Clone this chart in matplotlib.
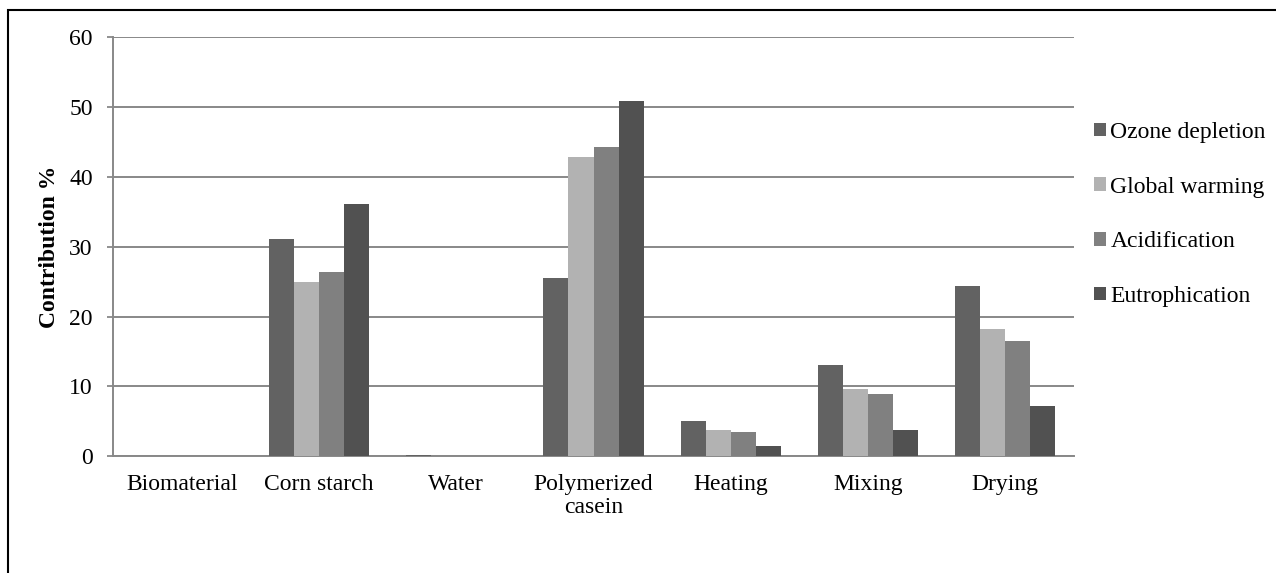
import matplotlib
matplotlib.use("Agg")
import matplotlib.pyplot as plt
import numpy as np
from matplotlib.patches import Rectangle

categories = ["Biomaterial", "Corn starch", "Water", "Polymerized\ncasein", "Heating", "Mixing", "Drying"]
series_names = ["Ozone depletion", "Global warming", "Acidification", "Eutrophication"]
ozone = [0, 31.1, 0.2, 25.6, 5.1, 13.1, 24.4]
global_warming = [0, 24.9, 0, 42.8, 3.8, 9.7, 18.3]
acidification = [0, 26.4, 0, 44.3, 3.5, 8.9, 16.5]
eutrophication = [0, 36.2, 0, 50.9, 1.5, 3.8, 7.2]
colors = ["#626262", "#b2b2b2", "#808080", "#515151"]

plt.rcParams['font.family'] = ['Liberation Serif', 'DejaVu Serif']
FS = 17

fig = plt.figure(figsize=(12.76, 5.73), dpi=100)
ax = fig.add_axes([113/1276, 1-456.3/573, (1074-113)/1276, (456.3-37.3)/573])

x = np.arange(len(categories))
w = 0.73 / 4
for i, (vals, name) in enumerate(zip([ozone, global_warming, acidification, eutrophication], series_names)):
    ax.bar(x + (i - 1.5) * w, vals, w, color=colors[i], label=name, zorder=3)

ax.set_xlim(-0.5, len(categories) - 0.5)
ax.set_ylim(0, 60)
ax.set_yticks(range(0, 61, 10))
ax.set_xticks(x)
ax.set_xticklabels(categories, fontsize=FS, linespacing=1.1)
ax.tick_params(axis='y', labelsize=FS, length=4.5, color='#888888', width=1.3, pad=10)
ax.tick_params(axis='x', length=0, pad=13)
ax.yaxis.grid(True, color='#888888', linewidth=1.4, zorder=0)
ax.set_axisbelow(True)
for s in ['top', 'right']:
    ax.spines[s].set_visible(False)
for s in ['left', 'bottom']:
    ax.spines[s].set_color('#888888')
    ax.spines[s].set_linewidth(1.4)
ax.set_ylabel("Contribution %", fontsize=FS, fontweight='bold', labelpad=7)

leg = ax.legend(loc='upper left', bbox_to_anchor=(0.9985, 0.849), frameon=False, fontsize=FS,
                handlelength=0.5, handleheight=0.5, handletextpad=0.2, labelspacing=1.43)

fig.patches.append(Rectangle((8/1276, -0.1), 1.2, 1 - 10/573 + 0.1, transform=fig.transFigure,
                             fill=False, edgecolor='black', linewidth=1.5))

fig.savefig("out.png", dpi=100)
